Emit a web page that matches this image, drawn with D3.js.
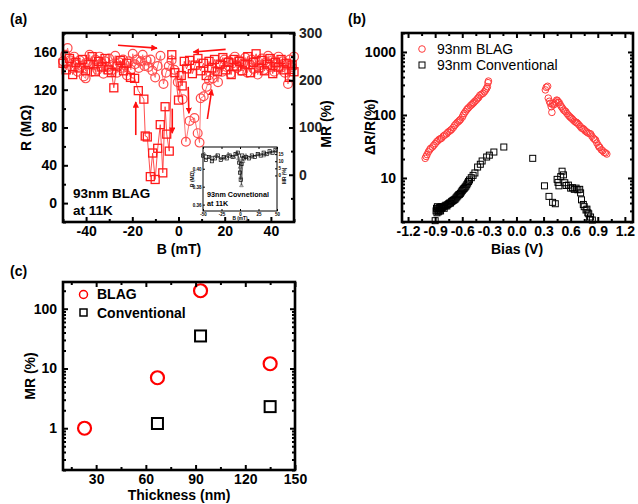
<!DOCTYPE html>
<html>
<head>
<meta charset="utf-8">
<script src="https://cdn.jsdelivr.net/npm/d3@7"></script>
<style>
  body { margin: 0; background: #fff; }
  svg { display: block; }
</style>
</head>
<body>
<svg id="fig" width="638" height="504"></svg>
<script>
// ---------- (a) R vs B, 93nm BLAG at 11K ----------
const bCircle = [-50,-49,-48,-47,-46,-45.2,-44.5,-43.6,-42.8,-42,-41,-40.2,-39.4,-38.5,-37.6,-36.8,-36,-35.1,-34.2,-33.4,
  -32.5,-31.7,-30.8,-30,-29.1,-28.3,-27.4,-26.6,-25.7,-24.9,-24,-23.2,-22.3,-21.5,-20.6,-19.8,-18.9,-18.1,-17.2,-16.4,
  -15.5,-14.7,-13.8,-13,-12.1,-11.3,-10.1,-9,-7.8,-6.5,-5.4,-4.2,-3,-1.8,-0.3,1.8,3.2,4.8,6.9,8.3,
  9.1,9.6,10.9,12.2,13.2,14.8,16,17.1,18,19,19.9,20.8,21.7,22.6,23.5,24.4,25.3,26.2,27.1,28,
  28.9,29.8,30.7,31.6,32.5,33.4,34.3,35.2,36.1,37,37.9,38.8,39.7,40.6,41.5,42.4,43.3,44.2,45.1,46,
  46.9,47.4,48.2,49.1,50];
const rCircle = [150,157,164,151,143,155,147,139,151,145,134,132,149,157,139,146,152,141,155,148,
  137,150,144,153,140,147,156,138,149,143,152,146,135,150,141,158,147,152,143,150,
  157,145,151,144,152,140,133,145,156,126,138,145,151,141,128,110,65,87,90,74,
  64,111,113,123,130,132,140,128,146,139,152,144,150,137,148,155,143,151,140,148,
  154,138,147,152,142,150,136,146,153,141,149,156,144,151,139,148,155,143,150,138,
  147,126,152,144,155];
const bSquare = [-50,-48.6,-47.2,-45.8,-44.4,-43,-41.6,-40.2,-38.8,-37.4,-36,-34.6,-33.2,-31.8,-30.4,-29,-28,-26.6,-25.2,-23.8,
  -22.4,-20.8,-19,-17.4,-15,-14.4,-13.5,-12.2,-11.2,-10.1,-9,-7.9,-6.8,-5.8,-5.1,-4,-2.9,-1.6,0,1.2,
  1.6,2.5,3.5,4.8,6,7.2,8.4,9.6,10.8,12,13.2,14.4,15.6,16.8,18,19.2,20.4,21.6,22.8,24,
  25.2,26.4,27.6,28.8,30,31.2,32.4,33.6,34.8,36,37.2,38.4,39.6,40.8,42,43.2,44.4,45.6,46.8,48,
  49.2,50];
const rSquare = [148,141,153,136,149,143,152,140,147,155,139,150,144,153,141,138,122,145,151,140,
  148,133,132,119,110,71,70,28,53,25,58,83,32,102,73,55,157,138,109,135,
  124,150,142,151,137,146,153,140,148,135,150,143,152,139,147,154,141,149,136,152,
  145,150,140,147,155,138,149,158,143,151,140,147,153,137,149,144,152,141,148,133,
  146,139];
// sweep-direction arrows: [B0, R0, B1, R1]
const sweepArrows = [[-26.2,167,-9.3,164],[20.4,162.7,6.4,159.9],[-18.5,72,-18.5,107],
  [-2.7,100,-2.7,74],[4.2,123,4.5,95],[12.5,89,14.4,120]];
const rTicks = [0,40,80,120,160];
const mrTicksA = [0,100,200,300];
const bTicks = [-40,-20,0,20,40];

// inset: 93nm conventional
const insetB1 = [-50,-46,-42,-38,-34,-30,-26,-22,-18,-14,-10,-6,-3,-1,0,1,2,3,5,8,12,16,20,24,28,32,36,40,44,48];
const insetMR1 = [14,11,13,10,12,14,11,13,12,14,13,15,16,9,2,-3,8,14,12,13,12,14,13,15,14,16,15,17,16,18];
const insetB2 = [-48,-40,-32,-24,-16,-8,-4,-2,0,1,2,4,8,16,24,32,40,48];
const insetMR2 = [15,13,14,12,15,13,16,12,6,-1,-7,10,14,13,15,14,16,17];
const insetBTicks = [-50,-25,0,25,50];
const insetMRTicks = [0,5,10,15];
const insetRLabels = ["0.40","0.38","0.36"];

// ---------- (b) ΔR/R vs bias ----------
const vBlag = [-1.01,-1.0,-0.99,-0.975,-0.96,-0.95,-0.93,-0.915,-0.9,-0.883,-0.87,-0.855,-0.84,-0.828,-0.81,
  -0.795,-0.773,-0.76,-0.745,-0.73,-0.718,-0.70,-0.685,-0.67,-0.655,-0.64,-0.63,-0.619,-0.60,-0.59,
  -0.579,-0.565,-0.55,-0.54,-0.527,-0.51,-0.495,-0.483,-0.473,-0.46,-0.445,-0.43,-0.418,-0.405,-0.39,
  -0.37,-0.355,-0.341,-0.33,-0.322,-0.315,-0.31,
  0.32,0.33,0.345,0.352,0.365,0.374,0.385,0.392,0.40,0.407,0.42,0.435,0.445,0.454,0.463,
  0.473,0.485,0.498,0.51,0.522,0.535,0.546,0.56,0.575,0.59,0.60,0.612,0.625,0.64,0.655,
  0.665,0.674,0.69,0.705,0.72,0.735,0.747,0.76,0.775,0.79,0.805,0.821,0.835,0.85,0.865,
  0.876,0.89,0.905,0.915,0.923,0.94,0.955,0.97,0.985,1.0];
const drBlag = [20.5,22,23.5,26,28,29.5,31,33,35,37.5,39,41,42,43,46,
  48,50,53,55,57,59,63,68,72,76,79,82,85,92,99,
  106,113,121,126,132,140,146,152,157,165,172,183,190,205,212,
  220,233,249,265,281,325,345,
  250,275,285,185,165,153,135,110,150,144,148,160,172,169,160,
  157,145,135,128,120,116,113,105,99,94,91,88,84,80,77,
  76,74,70,66,62,61,59,56,54,52,51,50,46,43,41,
  40,36,33,31,30.6,28,27,25.5,25,24];
const vConv = [-0.90,-0.89,-0.885,-0.88,-0.875,-0.87,-0.865,-0.86,-0.855,-0.85,-0.845,-0.84,-0.835,-0.83,-0.82,
  -0.81,-0.80,-0.79,-0.78,-0.77,-0.76,-0.75,-0.74,-0.73,-0.72,-0.71,-0.70,-0.69,-0.68,-0.67,
  -0.66,-0.65,-0.64,-0.63,-0.62,-0.61,-0.60,-0.59,-0.58,-0.57,-0.56,-0.55,-0.54,-0.53,-0.52,
  -0.50,-0.48,-0.46,-0.43,-0.40,-0.38,-0.33,-0.30,-0.25,-0.14,
  0.18,0.31,0.36,0.40,0.43,0.45,0.46,0.47,0.49,0.505,0.52,0.535,0.55,0.575,0.60,
  0.62,0.64,0.66,0.68,0.70,0.71,0.72,0.74,0.75,0.77,0.78,0.79,0.80,0.81,0.82,0.84];
const drConv = [2.1,3.0,3.3,2.8,3.5,3.1,2.9,3.3,3.0,3.4,3.2,3.0,3.5,3.3,3.4,
  3.5,3.3,3.6,3.7,3.6,3.8,3.9,4.0,4.0,4.2,4.3,4.4,4.5,4.6,4.8,
  5.0,5.2,5.4,5.5,5.7,6.0,6.3,6.6,6.8,7.1,7.4,7.8,8.3,8.8,9.3,
  10.1,11.0,12.0,14.9,16.5,18.6,21.5,23,25.8,31,
  20.5,7.5,5.1,4.1,3.9,9.5,8.5,7.5,10.5,12.8,11.2,8.4,7.6,7.7,6.9,
  7.0,6.6,6.9,6.5,6.6,5.8,4.5,3.8,3.5,3.1,3.2,2.8,2.7,2.2,2.4,2.15];
const biasTicks = [-1.2,-0.9,-0.6,-0.3,0,0.3,0.6,0.9,1.2];
const drTicks = [10,100,1000];

// ---------- (c) MR vs thickness ----------
const thickBlag = [23,67,93,135];
const mrBlag = [1.0,7,200,12];
const thickConv = [67,93,135];
const mrConv = [1.2,35,2.3];
const thickTicks = [30,60,90,120,150];
const mrTicksC = [1,10,100];

// ---------- drawing ----------
const FONT = '"Liberation Sans", Arial, Helvetica, sans-serif';
const svg = d3.select("#fig");
svg.append("rect").attr("width",638).attr("height",504).attr("fill","#fff");

const defs = svg.append("defs");
defs.append("marker").attr("id","arrowRed").attr("viewBox","0 0 10 10")
  .attr("refX",9).attr("refY",5).attr("markerWidth",4).attr("markerHeight",4)
  .attr("markerUnits","strokeWidth").attr("orient","auto")
  .append("path").attr("d","M0,0 L10,5 L0,10 Z").attr("fill","#ff1010");

function txt(g, x, y, s, o = {}) {
  return g.append("text").attr("x",x).attr("y",y).text(s)
    .attr("font-family",FONT).attr("font-size",o.size || 14)
    .attr("font-weight",o.weight || "bold").attr("fill",o.fill || "#000")
    .attr("text-anchor",o.anchor || "start");
}
function vtxt(g, x, y, s, o = {}) {
  return g.append("text").attr("transform",`translate(${x},${y}) rotate(-90)`).text(s)
    .attr("font-family",FONT).attr("font-size",o.size || 14)
    .attr("font-weight",o.weight || "bold").attr("fill",o.fill || "#000")
    .attr("text-anchor","middle");
}
function styleAxis(sel, o = {}) {
  sel.select(".domain").remove();
  sel.selectAll(".tick line").attr("stroke","#000").attr("stroke-width",o.tw || 2);
  sel.selectAll(".tick text").attr("font-family",FONT).attr("font-size",o.fs || 14)
    .attr("font-weight","bold").attr("fill",o.fill || "#000");
}
function logMinor(lo, hi) {
  const out = [];
  for (let p = Math.floor(Math.log10(lo)); p <= Math.ceil(Math.log10(hi)); p++)
    for (let m = 1; m <= 9; m++) {
      const v = m * Math.pow(10, p);
      if (v >= lo && v <= hi && m !== 1) out.push(v);
    }
  return out;
}
// box axes with inward ticks on all four sides, labels bottom/left
function boxAxes(g, x, y, W, H, c) {
  const M = c.maj || 5, m = c.min || 3;
  g.append("g").attr("transform",`translate(0,${H})`)
    .call(d3.axisBottom(x).tickValues(c.xMajor).tickFormat(c.xFmt).tickSize(-M).tickPadding(4)).call(styleAxis);
  g.append("g").attr("transform",`translate(0,${H})`)
    .call(d3.axisBottom(x).tickValues(c.xMinor).tickFormat("").tickSize(-m)).call(styleAxis);
  g.append("g").call(d3.axisTop(x).tickValues(c.xMajor).tickFormat("").tickSize(-M)).call(styleAxis);
  g.append("g").call(d3.axisTop(x).tickValues(c.xMinor).tickFormat("").tickSize(-m)).call(styleAxis);
  g.append("g").call(d3.axisLeft(y).tickValues(c.yMajor).tickFormat(c.yFmt).tickSize(-M).tickPadding(6)).call(styleAxis);
  g.append("g").call(d3.axisLeft(y).tickValues(c.yMinor).tickFormat("").tickSize(-m)).call(styleAxis);
  if (!c.noRight) {
    g.append("g").attr("transform",`translate(${W},0)`)
      .call(d3.axisRight(y).tickValues(c.yMajor).tickFormat("").tickSize(-M)).call(styleAxis);
    g.append("g").attr("transform",`translate(${W},0)`)
      .call(d3.axisRight(y).tickValues(c.yMinor).tickFormat("").tickSize(-m)).call(styleAxis);
  }
}
function frame(g, W, H) {
  g.append("rect").attr("width",W).attr("height",H).attr("fill","none")
    .attr("stroke","#000").attr("stroke-width",2.6);
}
const plain = d => String(d);
const fixed1 = d => d.toFixed(1);

// ===== panel (a) =====
{
  const X0 = 63, Y0 = 33, W = 231, H = 189;
  const g = svg.append("g").attr("transform",`translate(${X0},${Y0})`);
  const x = d3.scaleLinear().domain([-50,50]).range([0,W]);
  const y = d3.scaleLinear().domain([-20,180]).range([H,0]);
  const yR = d3.scaleLinear().domain([-100,300]).range([H,0]);

  const line = d3.line().x(d => x(d[0])).y(d => y(d[1]));
  const sq = d3.zip(bSquare, rSquare), ci = d3.zip(bCircle, rCircle);
  g.append("path").datum(sq).attr("d",line).attr("fill","none").attr("stroke","#ff3030").attr("stroke-width",1).attr("opacity",0.85);
  g.append("path").datum(ci).attr("d",line).attr("fill","none").attr("stroke","#ff5a5a").attr("stroke-width",1).attr("opacity",0.85);
  g.selectAll(".ci").data(ci).join("circle").attr("cx",d => x(d[0])).attr("cy",d => y(d[1])).attr("r",4.4)
    .attr("fill","none").attr("stroke","#ff4a4a").attr("stroke-width",1.2);
  g.selectAll(".sq").data(sq).join("rect").attr("x",d => x(d[0]) - 4).attr("y",d => y(d[1]) - 4)
    .attr("width",8).attr("height",8).attr("fill","none").attr("stroke","#ff1a1a").attr("stroke-width",1.3);

  g.selectAll(".arr").data(sweepArrows).join("line")
    .attr("x1",d => x(d[0])).attr("y1",d => y(d[1])).attr("x2",d => x(d[2])).attr("y2",d => y(d[3]))
    .attr("stroke","#ff1010").attr("stroke-width",1.6).attr("marker-end","url(#arrowRed)");

  boxAxes(g, x, y, W, H, {
    xMajor: bTicks, xMinor: [-50,-30,-10,10,30,50], xFmt: plain,
    yMajor: rTicks, yMinor: [-20,20,60,100,140,180], yFmt: plain, noRight: true
  });
  g.append("g").attr("transform",`translate(${W},0)`)
    .call(d3.axisRight(yR).tickValues(mrTicksA).tickFormat(plain).tickSize(-5).tickPadding(5)).call(styleAxis, {fill:"#222"});
  g.append("g").attr("transform",`translate(${W},0)`)
    .call(d3.axisRight(yR).tickValues([-50,50,150,250]).tickFormat("").tickSize(-3)).call(styleAxis);

  // inset
  const ix0 = 203 - X0, iy0 = 147 - Y0, iW = 74, iH = 64;
  const ig = g.append("g").attr("transform",`translate(${ix0},${iy0})`);
  ig.append("rect").attr("width",iW).attr("height",iH).attr("fill","#fff");
  const ix = d3.scaleLinear().domain([-50,50]).range([0,iW]);
  const iy = d3.scaleLinear().domain([-25,20]).range([iH,0]);
  const iline = d3.line().x(d => ix(d[0])).y(d => iy(d[1]));
  const s1 = d3.zip(insetB1, insetMR1), s2 = d3.zip(insetB2, insetMR2);
  ig.append("path").datum(s1).attr("d",iline).attr("fill","none").attr("stroke","#333").attr("stroke-width",0.8);
  ig.append("path").datum(s2).attr("d",iline).attr("fill","none").attr("stroke","#555").attr("stroke-width",0.8);
  ig.selectAll(".s1").data(s1).join("rect").attr("x",d => ix(d[0]) - 1.6).attr("y",d => iy(d[1]) - 1.6)
    .attr("width",3.2).attr("height",3.2).attr("fill","none").attr("stroke","#000").attr("stroke-width",0.7);
  ig.selectAll(".s2").data(s2).join("path")
    .attr("d",d => { const cx = ix(d[0]), cy = iy(d[1]); return `M${cx},${cy-2}L${cx+1.8},${cy+1.3}L${cx-1.8},${cy+1.3}Z`; })
    .attr("fill","none").attr("stroke","#444").attr("stroke-width",0.6);
  const ist = sel => styleAxis(sel, {fs: 4.5, tw: 1});
  ig.append("g").attr("transform",`translate(0,${iH})`)
    .call(d3.axisBottom(ix).tickValues(insetBTicks).tickFormat(plain).tickSize(-2).tickPadding(1.5)).call(ist);
  ig.append("g").call(d3.axisTop(ix).tickValues(insetBTicks).tickFormat("").tickSize(-2)).call(ist);
  const iyL = d3.scaleLinear().domain([0,2]).range([iH*0.34, iH*0.9]);
  ig.append("g").call(d3.axisLeft(iyL).tickValues([0,1,2]).tickFormat((d,i) => insetRLabels[i]).tickSize(-2).tickPadding(1.5)).call(ist);
  ig.append("g").attr("transform",`translate(${iW},0)`)
    .call(d3.axisRight(iy).tickValues(insetMRTicks).tickFormat(plain).tickSize(-2).tickPadding(1.5)).call(ist);
  ig.append("rect").attr("width",iW).attr("height",iH).attr("fill","none").attr("stroke","#000").attr("stroke-width",1);
  txt(ig, 4, 50, "93nm Covnetional", {size: 7.2});
  txt(ig, 4, 59, "at 11K", {size: 7.2});
  txt(ig, iW/2, iH + 9, "B (mT)", {size: 4.8, anchor: "middle"});
  vtxt(ig, -9, iH*0.5, "R (MΩ)", {size: 4.8});
  vtxt(ig, iW + 9, iH*0.45, "MR (%)", {size: 4.8});

  frame(g, W, H);
  txt(g, 10, 165, "93nm BLAG", {size: 13.5});
  txt(g, 10, 182, "at 11K", {size: 13.5});
  txt(svg, 179, 254, "B (mT)", {anchor: "middle"});
  vtxt(svg, 31, 128, "R (MΩ)");
  vtxt(svg, 331, 124, "MR (%)");
  txt(svg, 10, 24, "(a)");
}

// ===== panel (b) =====
{
  const X0 = 402, Y0 = 33, W = 231, H = 189;
  const g = svg.append("g").attr("transform",`translate(${X0},${Y0})`);
  const x = d3.scaleLinear().domain([-1.267,1.29]).range([0,W]);
  const y = d3.scaleLog().domain([2,2000]).range([H,0]);
  g.selectAll(".bl").data(d3.zip(vBlag, drBlag)).join("circle")
    .attr("cx",d => x(d[0])).attr("cy",d => y(d[1])).attr("r",3.3)
    .attr("fill","none").attr("stroke","#ff3b3b").attr("stroke-width",1);
  g.selectAll(".cv").data(d3.zip(vConv, drConv)).join("rect")
    .attr("x",d => x(d[0]) - 3).attr("y",d => y(d[1]) - 3).attr("width",6).attr("height",6)
    .attr("fill","none").attr("stroke","#000").attr("stroke-width",1);
  boxAxes(g, x, y, W, H, {
    xMajor: biasTicks, xMinor: [-1.05,-0.75,-0.45,-0.15,0.15,0.45,0.75,1.05], xFmt: fixed1,
    yMajor: drTicks, yMinor: logMinor(2,2000), yFmt: plain
  });
  frame(g, W, H);
  // legend
  g.append("circle").attr("cx",20).attr("cy",16).attr("r",3.3).attr("fill","none").attr("stroke","#ff3b3b").attr("stroke-width",1);
  g.append("rect").attr("x",17).attr("y",29).attr("width",6).attr("height",6).attr("fill","none").attr("stroke","#000").attr("stroke-width",1);
  txt(g, 35, 21, "93nm BLAG", {weight: "normal"});
  txt(g, 35, 37, "93nm Conventional", {weight: "normal"});
  txt(svg, 517, 254, "Bias (V)", {anchor: "middle"});
  vtxt(svg, 375, 127, "ΔR/R(%)");
  txt(svg, 348, 24, "(b)");
}

// ===== panel (c) =====
{
  const X0 = 63, Y0 = 282, W = 232, H = 188;
  const g = svg.append("g").attr("transform",`translate(${X0},${Y0})`);
  const x = d3.scaleLinear().domain([10,150]).range([0,W]);
  const y = d3.scaleLog().domain([0.2,280]).range([H,0]);
  g.selectAll(".cb").data(d3.zip(thickBlag, mrBlag)).join("circle")
    .attr("cx",d => x(d[0])).attr("cy",d => y(d[1])).attr("r",6.5)
    .attr("fill","none").attr("stroke","#ff0000").attr("stroke-width",2.2);
  g.selectAll(".cc").data(d3.zip(thickConv, mrConv)).join("rect")
    .attr("x",d => x(d[0]) - 5.5).attr("y",d => y(d[1]) - 5.5).attr("width",11).attr("height",11)
    .attr("fill","none").attr("stroke","#000").attr("stroke-width",2);
  boxAxes(g, x, y, W, H, {
    xMajor: thickTicks, xMinor: [15,45,75,105,135], xFmt: plain,
    yMajor: mrTicksC, yMinor: logMinor(0.2,280), yFmt: plain
  });
  frame(g, W, H);
  g.append("circle").attr("cx",20.5).attr("cy",12.5).attr("r",4).attr("fill","none").attr("stroke","#ff0000").attr("stroke-width",1.5);
  g.append("rect").attr("x",17).attr("y",27).attr("width",7).attr("height",7).attr("fill","none").attr("stroke","#000").attr("stroke-width",1.5);
  txt(g, 34, 17, "BLAG");
  txt(g, 34, 36, "Conventional");
  txt(svg, 179, 500, "Thickness (nm)", {anchor: "middle"});
  vtxt(svg, 35, 376, "MR (%)");
  txt(svg, 10, 276, "(c)");
}
</script>
</body>
</html>
